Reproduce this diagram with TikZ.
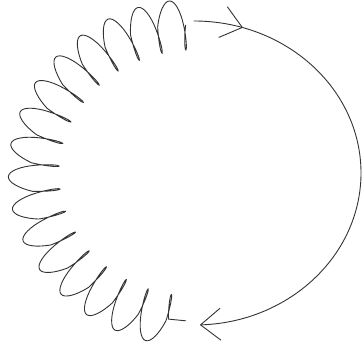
\documentclass[tikz,border=0pt]{standalone}
\usetikzlibrary{decorations.pathmorphing, decorations.markings, arrows.meta}

\begin{document}
\begin{tikzpicture}[
    x=1pt, y=1pt,
    pen/.style={draw=black!80, line width=0.9pt, line cap=round, line join=round},
    spring/.style={pen, decorate, decoration={coil, amplitude=25pt, segment length=28pt, aspect=-0.24}},
    barb/.style={-{Straight Barb[length=20pt, width=32pt]}},
    midbarb/.style={postaction={decorate, decoration={markings,
      mark=at position 0.1 with {\arrow{Straight Barb[length=20pt, width=32pt]}}}}}
  ]

  \useasboundingbox (0,0) rectangle (362,347);

  \coordinate (centre) at (194,174);
  \path (centre) ++(93:160pt and 148pt) coordinate (coil start);
  \path (centre) ++(90:167pt and 152pt) coordinate (ring start);

  % the wound half
  \draw[spring] (coil start) arc[start angle=93, end angle=267, x radius=160pt, y radius=148pt];

  % the bare half, running clockwise
  \draw[pen, barb, midbarb] (ring start) arc[start angle=90, end angle=-88, x radius=167pt, y radius=152pt];

\end{tikzpicture}
\end{document}
